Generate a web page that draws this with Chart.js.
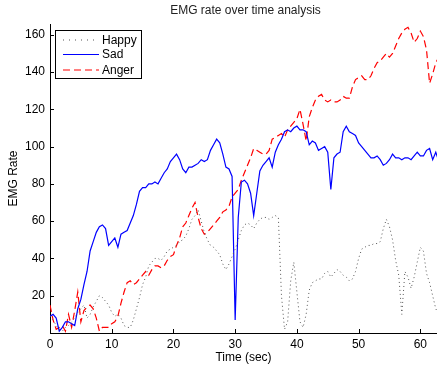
<!DOCTYPE html>
<html>
<head>
<meta charset="utf-8">
<script src="https://cdn.jsdelivr.net/npm/chart.js@4"></script>
<style>
  html, body { margin: 0; padding: 0; background: #fff; }
  #wrap { width: 437px; height: 368px; }
</style>
</head>
<body>
<div id="wrap"><canvas id="emgChart" width="437" height="368"></canvas></div>
<script>
// tiempos (s)
const times = [
  0, 0.5, 1, 1.5, 2, 2.5, 3, 3.5, 4, 4.5, 5, 5.5, 6, 6.5, 7, 7.5, 8, 8.5, 9, 9.5,
  10, 10.5, 11, 11.5, 12, 12.5, 13, 13.5, 14, 14.5, 15, 15.5, 16, 16.5, 17, 17.5, 18, 18.5, 19, 19.5,
  20, 20.5, 21, 21.5, 22, 22.5, 23, 23.5, 24, 24.5, 25, 25.5, 26, 26.5, 27, 27.5, 28, 28.5, 29, 29.5,
  30, 30.5, 31, 31.5, 32, 32.5, 33, 33.5, 34, 34.5, 35, 35.5, 36, 36.5, 37, 37.5, 38, 38.5, 39, 39.5,
  40, 40.5, 41, 41.5, 42, 42.5, 43, 43.5, 44, 44.5, 45, 45.5, 46, 46.5, 47, 47.5, 48, 48.5, 49, 49.5,
  50, 50.5, 51, 51.5, 52, 52.5, 53, 53.5, 54, 54.5, 55, 55.5, 56, 56.5, 57, 57.5, 58, 58.5, 59, 59.5,
  60, 60.5, 61, 61.5, 62, 62.5, 63
];

const happy = [
  9, 7, 4, 2, 1, 3, 4, 6, 8, 11, 13, 15, 8, 10, 14, 17, 20, 19, 17, 15,
  11, 9, 10, 8, 4, 3, 3, 7, 13, 19, 26, 30, 36, 38, 40, 40, 39, 41, 44, 45,
  46, 47, 49, 50, 52, 56, 61, 63, 66, 60, 54, 50, 47, 46, 44, 42, 37, 34, 37, 41,
  45, 50, 55, 58, 59, 58, 56, 59, 61, 62, 62, 61, 62, 63, 62, 20, 2, 6, 28, 38,
  22, 6, 3, 10, 23, 27, 28, 29, 29, 32, 33, 30, 32, 34, 33, 31, 30, 28, 29, 33,
  40, 45, 46, 47, 47, 48, 48, 49, 56, 61, 57, 50, 39, 31, 10, 33, 30, 24, 30, 38,
  46, 44, 32, 27, 20, 13, 10
];

const sad = [
  9, 10, 8, 1, 3, 6, 6, 5, 4, 13, 18, 26, 33, 44, 49, 54, 57, 58, 56, 47,
  49, 51, 46, 53, 54, 55, 59, 63, 69, 76, 78, 78, 80, 80, 81, 80, 83, 86, 88, 92,
  94, 96, 93, 88, 86, 89, 89, 90, 91, 93, 92, 93, 98, 101, 104, 102, 96, 89, 88, 84,
  7, 62, 81, 82, 80, 75, 63, 75, 87, 90, 92, 94, 89, 97, 101, 104, 108, 109, 108, 110,
  111, 109, 109, 108, 101, 103, 102, 98, 99, 100, 97, 77, 94, 96, 97, 108, 111, 108, 107, 106,
  102, 100, 98, 96, 94, 94, 95, 93, 90, 91, 93, 96, 94, 94, 93, 94, 94, 93, 95, 97,
  95, 95, 98, 99, 93, 97, 92
];

const anger = [
  15, 7, 2, 3, 4, 1, 10, 3, 12, 22, 6, 12, 14, 15, 13, 8, 1, 3, 3, 3,
  5, 6, 9, 16, 22, 27, 28, 26, 27, 29, 31, 33, 31, 34, 36, 36, 35, 36, 39, 41,
  42, 47, 51, 57, 59, 63, 67, 70, 62, 56, 53, 54, 56, 58, 60, 62, 65, 66, 68, 73,
  75, 77, 82, 86, 90, 94, 99, 98, 97, 96, 96, 98, 104, 105, 106, 107, 105, 109, 111, 113,
  115, 120, 112, 103, 116, 121, 125, 127, 128, 125, 124, 125, 124, 124, 125, 127, 126, 126, 132, 136,
  137, 138, 136, 136, 138, 142, 145, 146, 148, 150, 148, 150, 154, 158, 161, 163, 164, 161, 156, 158,
  162, 159, 152, 134, 139, 145, 148
];

const xTicks = [0, 10, 20, 30, 40, 50, 60];
const yTicks = [20, 40, 60, 80, 100, 120, 140, 160];

const toPoints = (vals) => vals.map((v, i) => ({ x: times[i], y: v }));

const FONT = "'Liberation Sans', Arial, Helvetica, sans-serif";

// titulo, marcas hacia dentro y leyenda dentro del grafico
const matlabLook = {
  id: 'matlabLook',
  afterDraw(chart) {
    const { ctx, chartArea, scales } = chart;
    ctx.save();
    // marcas de los ejes
    ctx.strokeStyle = '#000';
    ctx.lineWidth = 1;
    ctx.beginPath();
    xTicks.forEach(t => {
      const px = Math.round(scales.x.getPixelForValue(t)) + 0.5;
      ctx.moveTo(px, chartArea.bottom);
      ctx.lineTo(px, chartArea.bottom - 4);
    });
    yTicks.forEach(t => {
      const py = Math.round(scales.y.getPixelForValue(t)) + 0.5;
      ctx.moveTo(chartArea.left, py);
      ctx.lineTo(chartArea.left + 4, py);
    });
    ctx.stroke();

    // titulo
    ctx.fillStyle = '#222';
    ctx.font = '12px ' + FONT;
    ctx.textAlign = 'center';
    ctx.textBaseline = 'middle';
    ctx.fillText('EMG rate over time analysis', (chartArea.left + chartArea.right) / 2 + 2, 10.5);

    // leyenda
    const bx = 55.5, by = 30.5, bw = 86, bh = 48;
    ctx.fillStyle = '#fff';
    ctx.fillRect(bx, by, bw, bh);
    ctx.strokeStyle = '#000';
    ctx.setLineDash([]);
    ctx.strokeRect(bx, by, bw, bh);
    const rows = [40, 54.5, 70];
    chart.data.datasets.forEach((ds, i) => {
      ctx.strokeStyle = ds.borderColor;
      ctx.lineWidth = ds.borderWidth;
      ctx.setLineDash(i === 0 ? [1, 5] : (ds.borderDash || []));
      ctx.beginPath();
      ctx.moveTo(63, rows[i]);
      ctx.lineTo(99, rows[i]);
      ctx.stroke();
      ctx.setLineDash([]);
      ctx.fillStyle = '#000';
      ctx.textAlign = 'left';
      ctx.fillText(ds.label, 102, rows[i] + 0.5);
    });
    ctx.restore();
  }
};

const ctx = document.getElementById('emgChart').getContext('2d');
const emgChart = new Chart(ctx, {
  type: 'line',
  data: {
    datasets: [
      {
        label: 'Happy',
        data: toPoints(happy),
        borderColor: '#555',
        borderWidth: 1,
        borderDash: [1, 3],
        pointRadius: 0,
        fill: false
      },
      {
        label: 'Sad',
        data: toPoints(sad),
        borderColor: '#0000ff',
        borderWidth: 1.2,
        pointRadius: 0,
        fill: false
      },
      {
        label: 'Anger',
        data: toPoints(anger),
        borderColor: '#ff0000',
        borderWidth: 1.2,
        borderDash: [7, 4],
        pointRadius: 0,
        fill: false
      }
    ]
  },
  options: {
    responsive: false,
    animation: false,
    layout: { padding: { top: 24, left: 0, right: 0, bottom: 0 } },
    plugins: {
      legend: { display: false },
      title: { display: false },
      tooltip: { enabled: false }
    },
    scales: {
      x: {
        type: 'linear',
        min: 0,
        max: 62.7,
        afterBuildTicks: (axis) => { axis.ticks = xTicks.map(v => ({ value: v })); },
        afterFit: (axis) => { axis.height = 35; },
        grid: { display: false, drawTicks: false },
        border: { display: true, color: '#000', width: 1 },
        ticks: { color: '#000', font: { family: FONT, size: 12 }, padding: 4, maxRotation: 0 },
        title: {
          display: true,
          text: 'Time (sec)',
          color: '#000',
          font: { family: FONT, size: 12 },
          padding: { top: 0, bottom: 3 }
        }
      },
      y: {
        min: 0,
        max: 165.8,
        afterBuildTicks: (axis) => { axis.ticks = yTicks.map(v => ({ value: v })); },
        afterFit: (axis) => { axis.width = 50; },
        grid: { display: false, drawTicks: false },
        border: { display: true, color: '#000', width: 1 },
        ticks: { color: '#000', font: { family: FONT, size: 12 }, padding: 5 },
        title: {
          display: true,
          text: 'EMG Rate',
          color: '#000',
          font: { family: FONT, size: 12 },
          padding: { top: 6, bottom: 0 }
        }
      }
    }
  },
  plugins: [matlabLook]
});
</script>
</body>
</html>
